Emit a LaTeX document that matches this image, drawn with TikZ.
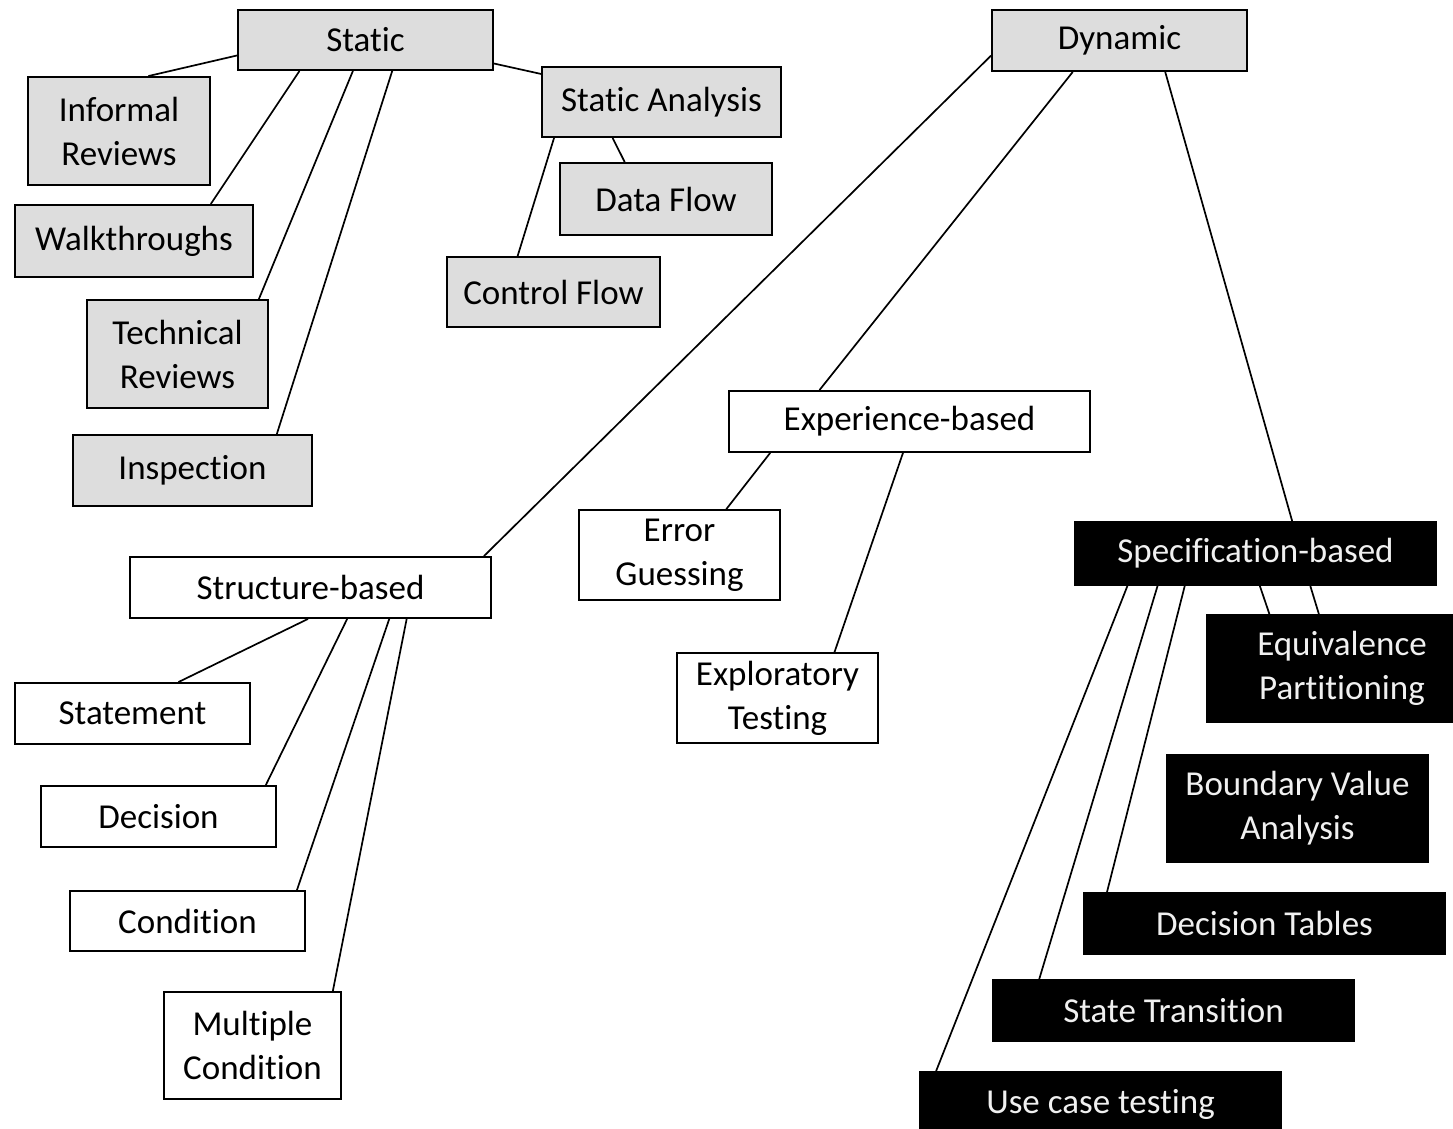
\documentclass[tikz,border=0pt]{standalone}
\usepackage{fontspec}
\setmainfont{Carlito}[Ligatures=NoCommon,RawFeature=-liga]
\usetikzlibrary{calc}
\definecolor{boxgray}{RGB}{221,221,221}
\definecolor{boxwhite}{RGB}{240,240,240}
\tikzset{
  tbox/.style={draw=black, line width=1.9pt, inner sep=0pt, align=center,
    font=\fontsize{35}{44}\selectfont, anchor=center},
  gbox/.style={tbox, fill=boxgray, text=black},
  wbox/.style={tbox, fill=white, text=black},
  bbox/.style={tbox, fill=black, text=boxwhite},
  conn/.style={draw=black, line width=1.7pt},
}
\begin{document}
\begin{tikzpicture}[x=1pt,y=-1pt]
\useasboundingbox (0,0) rectangle (1453,1129);
\clip (0,0) rectangle (1453,1129);
% Static branch
\node[gbox, minimum width=255, minimum height=60] (static) at (365.5,40) {Static};
\node[gbox, minimum width=182, minimum height=108] (informal) at (119,131) {Informal\\Reviews};
\node[gbox, minimum width=238, minimum height=72] (walk) at (134,241) {Walkthroughs};
\node[gbox, minimum width=181, minimum height=108] (tech) at (177.5,354) {Technical\\Reviews};
\node[gbox, minimum width=239, minimum height=71] (insp) at (192.5,470.5) {Inspection};
\node[gbox, minimum width=239, minimum height=70] (sa) at (661.5,102) {Static Analysis};
\node[gbox, minimum width=212, minimum height=72] (df) at (666,199) {Data Flow};
\node[gbox, minimum width=213, minimum height=70] (cf) at (553.5,292) {Control Flow};
% Dynamic branch
\node[gbox, minimum width=255, minimum height=61] (dyn) at (1119.5,40.5) {Dynamic};
\node[wbox, minimum width=361, minimum height=61] (exp) at (909.5,421.5) {Experience-based};
\node[wbox, minimum width=201, minimum height=90] (err) at (679.5,555) {Error\\Guessing};
\node[wbox, minimum width=201, minimum height=90] (explo) at (777.5,698) {Exploratory\\Testing};
\node[wbox, minimum width=361, minimum height=61] (struct) at (310.5,587.5) {Structure-based};
\node[wbox, minimum width=235, minimum height=61] (stmt) at (132.5,713.5) {Statement};
\node[wbox, minimum width=235, minimum height=61] (dec) at (158.5,816.5) {Decision};
\node[wbox, minimum width=235, minimum height=60] (cond) at (187.5,921) {Condition};
\node[wbox, minimum width=177, minimum height=107] (mult) at (252.5,1045.5) {Multiple\\Condition};
\node[bbox, minimum width=361, minimum height=63] (spec) at (1255.5,553.5) {Specification-based};
\node[bbox, minimum width=270, minimum height=107] (equiv) at (1342,668.5) {Equivalence\\Partitioning};
\node[bbox, minimum width=261, minimum height=107] (bva) at (1297.5,808.5) {Boundary Value\\Analysis};
\node[bbox, minimum width=361, minimum height=61] (dt) at (1264.5,923.5) {Decision Tables};
\node[bbox, minimum width=361, minimum height=61] (st) at (1173.5,1010.5) {State Transition};
\node[bbox, minimum width=361, minimum height=64] (uc) at (1100.5,1104) {Use case testing};
% connectors: Static
\draw[conn] ($(static.north west)!0.75!(static.south west)$) -- ($(informal.north west)!0.66!(informal.north east)$);
\draw[conn] ($(static.south west)!0.243!(static.south east)$) -- ($(walk.north west)!0.82!(walk.north east)$);
\draw[conn] ($(static.south west)!0.451!(static.south east)$) -- ($(tech.north west)!0.945!(tech.north east)$);
\draw[conn] ($(static.south west)!0.604!(static.south east)$) -- ($(insp.north west)!0.85!(insp.north east)$);
\draw[conn] ($(static.north east)!0.88!(static.south east)$) -- ($(sa.north west)!0.11!(sa.south west)$);
\draw[conn] ($(sa.south west)!0.297!(sa.south east)$) -- ($(df.north west)!0.307!(df.north east)$);
\draw[conn] ($(sa.south west)!0.054!(sa.south east)$) -- ($(cf.north west)!0.333!(cf.north east)$);
% connectors: Dynamic
\draw[conn] ($(dyn.north west)!0.74!(dyn.south west)$) -- ($(struct.north west)!0.978!(struct.north east)$);
\draw[conn] ($(dyn.south west)!0.318!(dyn.south east)$) -- ($(exp.north west)!0.252!(exp.north east)$);
\draw[conn] ($(dyn.south west)!0.678!(dyn.south east)$) -- ($(spec.north west)!0.601!(spec.north east)$);
% Experience
\draw[conn] ($(exp.south west)!0.116!(exp.south east)$) -- ($(err.north west)!0.731!(err.north east)$);
\draw[conn] ($(exp.south west)!0.482!(exp.south east)$) -- ($(explo.north west)!0.781!(explo.north east)$);
% Structure
\draw[conn] ($(struct.south west)!0.493!(struct.south east)$) -- ($(stmt.north west)!0.694!(stmt.north east)$);
\draw[conn] ($(struct.south west)!0.601!(struct.south east)$) -- ($(dec.north west)!0.953!(dec.north east)$);
\draw[conn] ($(struct.south west)!0.717!(struct.south east)$) -- ($(cond.north west)!0.962!(cond.north east)$);
\draw[conn] ($(struct.south west)!0.765!(struct.south east)$) -- ($(mult.north west)!0.949!(mult.north east)$);
% Specification
\draw[conn] ($(spec.south west)!0.512!(spec.south east)$) -- ($(equiv.north west)!0.233!(equiv.north east)$);
\draw[conn] ($(spec.south west)!0.651!(spec.south east)$) -- ($(equiv.north west)!0.415!(equiv.north east)$);
\draw[conn] ($(spec.south west)!0.147!(spec.south east)$) -- ($(uc.north west)!0.047!(uc.north east)$);
\draw[conn] ($(spec.south west)!0.23!(spec.south east)$) -- ($(st.north west)!0.13!(st.north east)$);
\draw[conn] ($(spec.south west)!0.305!(spec.south east)$) -- ($(dt.north west)!0.066!(dt.north east)$);
\end{tikzpicture}
\end{document}
